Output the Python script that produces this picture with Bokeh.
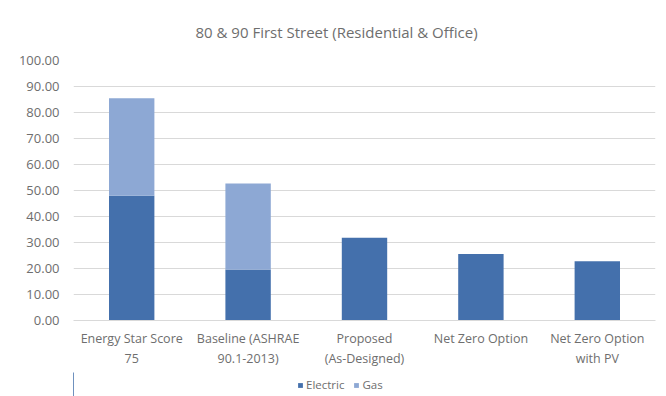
from bokeh.plotting import figure
from bokeh.layouts import column
from bokeh.models import Range1d, Legend, LegendItem, FixedTicker, ColumnDataSource
from bokeh.embed import file_html
from bokeh.resources import INLINE

categories = ["Energy Star Score\n75", "Baseline (ASHRAE\n90.1-2013)", "Proposed\n(As-Designed)",
              "Net Zero Option", "Net Zero Option\nwith PV"]
electric = [48.0, 19.6, 31.8, 25.6, 22.8]
gas = [37.5, 33.1, 0.0, 0.0, 0.0]
y_ticks = [0, 10, 20, 30, 40, 50, 60, 70, 80, 90, 100]
title_text = "80 & 90 First Street (Residential & Office)"
series_names = ["Electric", "Gas"]

ELEC = "#4470AC"
GAS = "#8DA8D4"
TXT = "#6E6E6E"
FONT = "Open Sans"

xs = list(range(len(categories)))
tops = [e + g for e, g in zip(electric, gas)]
src = ColumnDataSource(dict(x=xs, e=electric, t=tops))

p = figure(width=666, height=372, output_backend="svg", toolbar_location=None,
           x_range=Range1d(-0.5, len(categories) - 0.5), y_range=Range1d(0, 100),
           min_border_left=73, min_border_right=11, min_border_top=60, min_border_bottom=52)
p.outline_line_color = None
p.background_fill_color = "white"
p.border_fill_color = "white"

p.title.text = title_text
p.title.text_font = FONT
p.title.text_font_size = "15px"
p.title.text_font_style = "normal"
p.title.text_color = TXT
p.title.align = "left"
p.title.offset = 122
p.title.standoff = 38

p.vbar(x="x", top="e", bottom=0, width=0.39, source=src, fill_color=ELEC, line_color=None)
p.vbar(x="x", top="t", bottom="e", width=0.39, source=src, fill_color=GAS, line_color=None)

p.xaxis.ticker = FixedTicker(ticks=xs)
p.xaxis.major_label_overrides = {i: c for i, c in enumerate(categories)}
p.xaxis.axis_line_color = "#D9D9D9"
p.xaxis.major_tick_line_color = None
p.xaxis.minor_tick_line_color = None
p.xaxis.major_label_text_font = FONT
p.xaxis.major_label_text_font_size = "12.5px"
p.xaxis.major_label_text_color = TXT
p.xaxis.major_label_standoff = 3
p.xgrid.grid_line_color = None

p.yaxis.ticker = FixedTicker(ticks=y_ticks)
p.yaxis.major_label_overrides = {v: f"{v:.2f}" for v in y_ticks}
p.yaxis.axis_line_color = None
p.yaxis.major_tick_line_color = None
p.yaxis.minor_tick_line_color = None
p.yaxis.major_label_text_font = FONT
p.yaxis.major_label_text_font_size = "13px"
p.yaxis.major_label_text_color = TXT
p.yaxis.major_label_standoff = 8
p.ygrid.grid_line_color = "#D9D9D9"

# legend strip below the chart (its own bars lie outside its view; only the legend shows)
lf = figure(width=666, height=24, output_backend="svg", toolbar_location=None,
            x_range=Range1d(100, 101), y_range=Range1d(0, 1), x_axis_type=None, y_axis_type=None,
            min_border=0)
lf.outline_line_color = None
lf.xgrid.grid_line_color = None
lf.ygrid.grid_line_color = None
le = lf.vbar(x="x", top="e", bottom=0, width=0.39, source=src, fill_color=ELEC, line_color=None)
lg = lf.vbar(x="x", top="t", bottom="e", width=0.39, source=src, fill_color=GAS, line_color=None)
legend = Legend(items=[LegendItem(label=series_names[0], renderers=[le]),
                       LegendItem(label=series_names[1], renderers=[lg])],
                orientation="horizontal", location=(224, 4),
                glyph_width=6, glyph_height=6, label_text_font=FONT, label_text_font_size="11.5px",
                label_text_color=TXT, label_standoff=3, spacing=9, padding=0, margin=0,
                border_line_color=None, background_fill_alpha=0)
lf.add_layout(legend)

lay = column(p, lf, spacing=0)
open("out.html", "w").write(file_html(lay, INLINE))
